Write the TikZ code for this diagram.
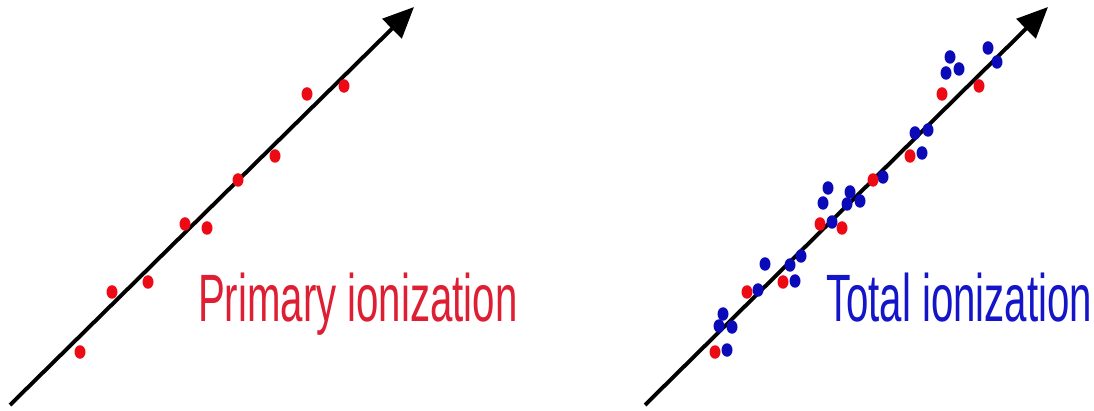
\documentclass[tikz,border=0pt]{standalone}
\usepackage{fontspec}
\setmainfont{Liberation Sans}
\usetikzlibrary{arrows.meta,shapes.geometric}
\definecolor{dotred}{RGB}{238,10,20}
\definecolor{txtred}{RGB}{222,30,50}
\definecolor{dotblue}{RGB}{10,10,185}
\definecolor{txtblue}{RGB}{20,20,200}
\tikzset{
  track/.style={line width=3.9pt,-{Triangle[length=31pt,width=27pt]}},
  rdot/.style={ellipse,fill=dotred,minimum width=11pt,minimum height=13.5pt,inner sep=0pt},
  bdot/.style={ellipse,fill=dotblue,minimum width=11pt,minimum height=13.5pt,inner sep=0pt},
  lbl/.style={anchor=base west,inner sep=0pt,xscale=0.6,font=\fontsize{67}{67}\selectfont}
}
\begin{document}
\begin{tikzpicture}[x=1pt,y=-1pt]
\useasboundingbox (0,0) rectangle (1094,411);
% left track
\coordinate (ls) at (10,405);
\coordinate (le) at (414,7);
\draw[track] (ls) -- (le);
\foreach \i/\x/\y in {1/80/352,2/112/292,3/148/282,4/185/224,5/207/228,6/238/180,7/275/156,8/307/94,9/344/86}
  \node[rdot] (lr\i) at (\x,\y) {};
\node[lbl,text=txtred] (ltext) at (198,322) {Primary ionization};
% right track
\coordinate (rs) at (645,405);
\coordinate (re) at (1048,7);
\draw[track] (rs) -- (re);
\foreach \i/\x/\y in {1/723/314,2/719/326,3/732/327,4/727/350,5/765/264,6/758/290,7/790/265,8/801/256,9/795/281,10/828/188,11/823/203,12/832/222,13/850/192,14/847/204,15/860/201,16/883/177,17/915/133,18/928/130,19/922/153,20/950/57,21/946/73,22/959/69,23/988/48,24/997/62}
  \node[bdot] (rb\i) at (\x,\y) {};
\foreach \i/\x/\y in {1/715/352,2/747/292,3/783/282,4/820/224,5/842/228,6/873/180,7/910/156,8/942/94,9/979/86}
  \node[rdot] (rr\i) at (\x,\y) {};
\node[lbl,text=txtblue] (rtext) at (826,322) {Total ionization};
\end{tikzpicture}
\end{document}
